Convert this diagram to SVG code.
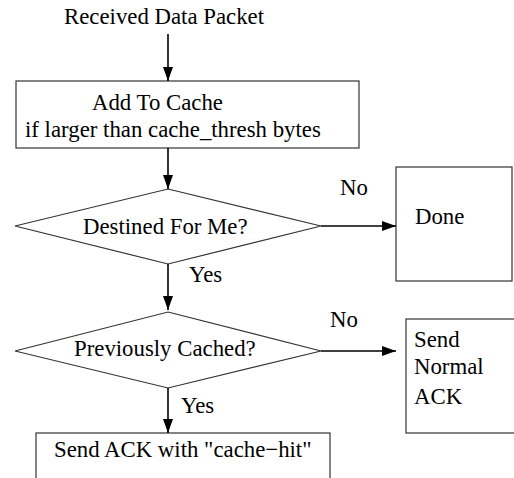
<svg xmlns="http://www.w3.org/2000/svg" width="514" height="478" viewBox="0 0 514 478">
<style>
text{font-family:"Liberation Serif","Times New Roman",serif;font-size:22.8px;fill:#000}
.s{fill:#fff;stroke:#333;stroke-width:1.2}
.c{fill:none;stroke:#000;stroke-width:1.6}
</style>
<defs>
<marker id="a" markerUnits="userSpaceOnUse" markerWidth="14" markerHeight="10" viewBox="0 0 14 10" refX="14" refY="5" orient="auto">
<path d="M0,0 L14,5 L0,10 Z" fill="#000"/>
</marker>
</defs>
<rect width="514" height="478" fill="#fff"/>
<g id="start"><text x="64" y="24">Received Data Packet</text></g>
<g id="addcache"><rect class="s" x="16" y="81" width="343" height="67"/>
<text x="92" y="110">Add To Cache</text>
<text x="25" y="137">if larger than cache_thresh bytes</text></g>
<g id="destined"><polygon class="s" points="168,189 321,226 168,264 15,226"/>
<text x="83" y="234">Destined For Me?</text></g>
<g id="done"><rect class="s" x="396" y="167" width="116" height="114"/>
<text x="415" y="224">Done</text></g>
<g id="cached"><polygon class="s" points="168,312 321,351 168,388 15,351"/>
<text x="74" y="356">Previously Cached?</text></g>
<g id="normal"><rect class="s" x="406" y="319" width="112" height="114"/>
<text x="414" y="347">Send</text>
<text x="414" y="374">Normal</text>
<text x="414" y="404">ACK</text></g>
<g id="hit"><rect class="s" x="36" y="433" width="294" height="60"/>
<text x="54" y="457">Send ACK with "cache−hit"</text></g>
<g id="connectors">
<line class="c" x1="168" y1="34" x2="168" y2="81" marker-end="url(#a)"/>
<line class="c" x1="168" y1="148" x2="168" y2="189" marker-end="url(#a)"/>
<line class="c" x1="321" y1="226" x2="396" y2="226" marker-end="url(#a)"/>
<text x="340" y="195">No</text>
<line class="c" x1="168" y1="264" x2="168" y2="310" marker-end="url(#a)"/>
<text x="189" y="282">Yes</text>
<line class="c" x1="321" y1="351" x2="396" y2="351" marker-end="url(#a)"/>
<text x="330" y="327">No</text>
<line class="c" x1="168" y1="388" x2="168" y2="433" marker-end="url(#a)"/>
<text x="181" y="413">Yes</text>
</g>
</svg>
